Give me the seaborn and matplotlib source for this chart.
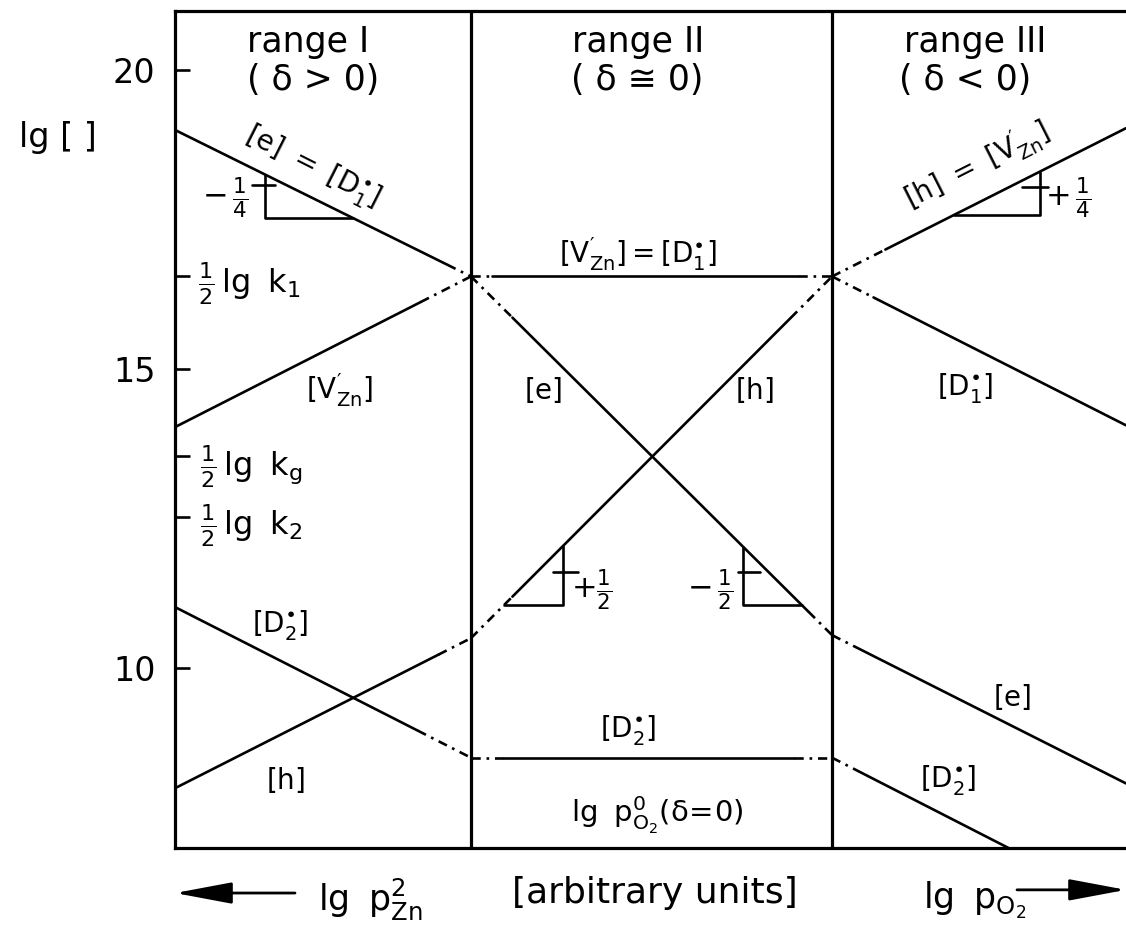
import numpy as np
import pandas as pd
import matplotlib
matplotlib.use("Agg")
import matplotlib.pyplot as plt
import seaborn as sns

# ---- defect concentration lines (lg units), one straight segment per entry ----
LINE_NAMES = ["e=D1 (I)", "VZn (I)", "D2 (I)", "h (I)",
              "VZn=D1 (II)", "e (II)", "h (II)", "D2 (II)",
              "h=VZn (III)", "D1 (III)", "e (III)", "D2 (III)"]
LINE_X0 = [0.0, 0.0, 0.0, 0.0, 10.0, 10.0, 10.0, 10.0, 22.2, 22.2, 22.2, 22.2]
LINE_Y0 = [19.0, 14.03, 11.02, 7.99, 16.55, 16.55, 10.5, 8.5, 16.55, 16.55, 10.55, 8.5]
LINE_X1 = [10.0, 10.0, 10.0, 10.0, 22.2, 22.2, 22.2, 22.2, 32.13, 32.13, 32.13, 28.2]
LINE_Y1 = [16.55, 16.55, 8.5, 10.5, 16.55, 10.55, 16.55, 8.5, 19.03, 14.06, 8.07, 6.98]
# part of each segment drawn solid; the rest is a dash-dot extension
SOLID_FROM = [0.0, 0.0, 0.0, 0.0, 10.7, 11.4, 11.4, 11.1, 24.0, 23.6, 23.2, 23.1]
SOLID_TO = [9.2, 8.3, 8.2, 8.9, 21.05, 21.4, 20.8, 20.9, 32.13, 32.13, 32.13, 28.2]

# ---- slope triangles: line index, vertical-leg x, horizontal-leg y, step tick ----
TRI_LINE = [0, 8, 6, 5]
TRI_VERT_X = [3.04, 29.22, 13.11, 19.19]
TRI_BASE_Y = [17.53, 17.58, 11.05, 11.05]
TRI_TICK_Y = [18.08, 18.04, 11.61, 11.61]
TRI_TICK_X0 = [2.6, 28.6, 12.77, 19.02]
TRI_TICK_X1 = [3.38, 29.5, 13.61, 19.76]

# ---- axis ticks ----
Y_TICKS = [20, 15, 10]
LEVEL_TICKS = [16.55, 13.55, 12.52]     # 1/2 lg k1, 1/2 lg kg, 1/2 lg k2
RANGE_BOUNDS = [10.0, 22.2]
X_LIM = (0.0, 32.13)
Y_LIM = (6.99, 20.99)

sns.set_theme(style="white")
plt.rcParams["font.family"] = ["DejaVu Sans"]
plt.rcParams["mathtext.fontset"] = "dejavusans"
plt.rcParams["mathtext.default"] = "regular"

# assemble drawing pieces
rows = []
pid = 0
for i in range(len(LINE_NAMES)):
    xa, ya, xb, yb = LINE_X0[i], LINE_Y0[i], LINE_X1[i], LINE_Y1[i]
    s0, s1 = SOLID_FROM[i], SOLID_TO[i]
    pieces = [((s0, s1), "solid")]
    if s0 > xa:
        pieces.append(((xa, s0), "ext"))
    if s1 < xb:
        pieces.append(((s1, xb), "ext"))
    for (p0, p1), kind in pieces:
        for x in (p0, p1):
            y = float(np.interp(x, [xa, xb], [ya, yb]))
            rows.append(dict(x=x, y=y, piece=pid, kind=kind))
        pid += 1

for k in range(len(TRI_LINE)):
    i = TRI_LINE[k]
    xa, ya, xb, yb = LINE_X0[i], LINE_Y0[i], LINE_X1[i], LINE_Y1[i]
    vx = TRI_VERT_X[k]
    by = TRI_BASE_Y[k]
    top_y = float(np.interp(vx, [xa, xb], [ya, yb]))
    # x where the line reaches the base level
    if yb > ya:
        bx = float(np.interp(by, [ya, yb], [xa, xb]))
    else:
        bx = float(np.interp(by, [yb, ya], [xb, xa]))
    for x, y in [(vx, top_y), (vx, by), (bx, by)]:
        rows.append(dict(x=x, y=y, piece=pid, kind="solid"))
    pid += 1
    for x in (TRI_TICK_X0[k], TRI_TICK_X1[k]):
        rows.append(dict(x=x, y=TRI_TICK_Y[k], piece=pid, kind="solid"))
    pid += 1

df = pd.DataFrame(rows)

fig = plt.figure(figsize=(11.26, 9.40), dpi=100)
ax = fig.add_axes([175 / 1126, 92 / 940, 951 / 1126, 837 / 940])

sns.lineplot(data=df, x="x", y="y", units="piece", style="kind",
             dashes={"solid": "", "ext": (3.5, 2.2, 1.0, 2.2)},
             estimator=None, sort=False, color="black", lw=1.9,
             legend=False, ax=ax)

for xb in RANGE_BOUNDS:
    ax.axvline(xb, color="black", lw=2.3)

ax.set_xlim(*X_LIM)
ax.set_ylim(*Y_LIM)
ax.set_xlabel("")
ax.set_ylabel("")
ax.set_xticks([])
ax.set_yticks(Y_TICKS + LEVEL_TICKS,
              labels=[str(t) for t in Y_TICKS] + [""] * len(LEVEL_TICKS))
ax.tick_params(axis="y", direction="in", length=11, width=1.9,
               labelsize=24, pad=14, left=True, colors="black")
for side in ["left", "top", "bottom"]:
    ax.spines[side].set_color("black")
    ax.spines[side].set_linewidth(2.3)
ax.spines["right"].set_visible(False)

LBL = 20
T = dict(color="black", ha="center", va="center")

# range headers
ax.text(4.5, 20.47, "range I", fontsize=25, **T)
ax.text(4.65, 19.83, "( δ > 0)", fontsize=25, **T)
ax.text(15.65, 20.47, "range II", fontsize=25, **T)
ax.text(15.6, 19.83, "( δ ≅ 0)", fontsize=25, **T)
ax.text(27.05, 20.47, "range III", fontsize=25, **T)
ax.text(26.7, 19.83, "( δ < 0)", fontsize=25, **T)

# levels on the left axis
ax.text(0.78, 16.42, r"$\frac{1}{2}\,lg\;\;k_1$", fontsize=23, color="black",
        ha="left", va="center")
ax.text(0.85, 13.36, r"$\frac{1}{2}\,lg\;\;k_g$", fontsize=23, color="black",
        ha="left", va="center")
ax.text(0.85, 12.37, r"$\frac{1}{2}\,lg\;\;k_2$", fontsize=23, color="black",
        ha="left", va="center")

D1 = r"[D_1^{\bullet}]"
D2 = r"[D_2^{\bullet}]"
VZN = r"[V_{Zn}^{\prime}]"

# curve labels
ax.text(4.63, 18.38, rf"$[e]\ =\ {D1}$", fontsize=LBL, rotation=-26.8, **T)
ax.text(27.09, 18.4, rf"$[h]\ =\ {VZN}$", fontsize=LBL, rotation=26.8, **T)
ax.text(5.57, 14.65, rf"${VZN}$", fontsize=LBL, **T)
ax.text(3.55, 10.72, rf"${D2}$", fontsize=LBL, **T)
ax.text(3.72, 8.13, r"$[h]$", fontsize=LBL, **T)
ax.text(15.64, 16.93, rf"${VZN}={D1}$", fontsize=LBL, **T)
ax.text(12.43, 14.65, r"$[e]$", fontsize=LBL, **T)
ax.text(19.59, 14.65, r"$[h]$", fontsize=LBL, **T)
ax.text(15.3, 8.96, rf"${D2}$", fontsize=LBL, **T)
ax.text(16.28, 7.54, r"$lg\;\;p_{O_2}^{0}(\delta\!=\!0)$", fontsize=21, **T)
ax.text(26.69, 14.68, rf"${D1}$", fontsize=LBL, **T)
ax.text(28.28, 9.51, r"$[e]$", fontsize=LBL, **T)
ax.text(26.11, 8.13, rf"${D2}$", fontsize=LBL, **T)

# slope labels
ax.text(1.69, 17.86, r"$-\,\frac{1}{4}$", fontsize=22, **T)
ax.text(30.17, 17.86, r"$+\,\frac{1}{4}$", fontsize=22, **T)
ax.text(14.09, 11.3, r"$+\frac{1}{2}$", fontsize=22, **T)
ax.text(18.07, 11.3, r"$-\,\frac{1}{2}$", fontsize=22, **T)

# axis captions and direction arrows (below the frame)
fig.text(58 / 1126, 1 - 138 / 940, "lg [ ]", fontsize=24, color="black",
         ha="center", va="center")
fig.text(370 / 1126, 1 - 900 / 940, r"$lg\;\;p_{Zn}^{2}$", fontsize=25,
         color="black", ha="center", va="center")
fig.text(655 / 1126, 1 - 893 / 940, "[arbitrary units]", fontsize=26,
         color="black", ha="center", va="center")
fig.text(975 / 1126, 1 - 900 / 940, r"$lg\;\;p_{O_2}$", fontsize=25,
         color="black", ha="center", va="center")
arrow = dict(arrowstyle="-|>,head_length=1.6,head_width=0.3",
             color="black", lw=2, mutation_scale=22, shrinkA=0, shrinkB=0)
ax.annotate("", xy=(0.0, -0.0538), xytext=(120 / 951, -0.0538),
            xycoords="axes fraction", textcoords="axes fraction",
            arrowprops=arrow, annotation_clip=False)
ax.annotate("", xy=(1.0, -0.050), xytext=(842 / 951, -0.050),
            xycoords="axes fraction", textcoords="axes fraction",
            arrowprops=arrow, annotation_clip=False)

fig.savefig("out.png", dpi=100)
